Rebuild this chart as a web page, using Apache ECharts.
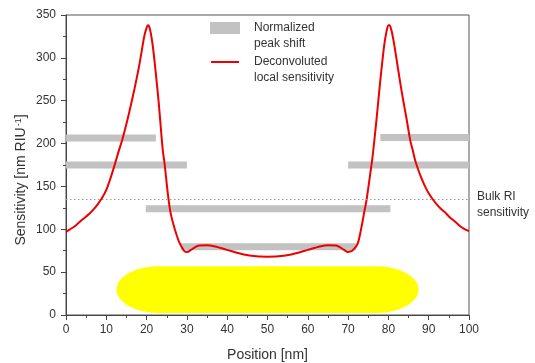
<!DOCTYPE html>
<html>
<head>
<meta charset="utf-8">
<script src="https://cdn.jsdelivr.net/npm/echarts@6/dist/echarts.min.js"></script>
<style>
  html, body { margin: 0; padding: 0; background: #fff; }
  #chart { width: 535px; height: 363px; }
</style>
</head>
<body>
<div id="chart"></div>
<script>
    // 位置 [nm] 与 局部灵敏度
    var posX = [0,1,2,3,4,5,6,7,8,9,10,11,12,13,14,15,16,17,18,18.5,19,19.5,20,20.3,20.6,21,21.5,22,22.5,23,23.5,24,24.5,25,25.5,26,27,28,29,29.5,30,31,32,33,35,37,40,43,46,50,54,57,60,63,65,67,68,69,70,70.5,71,72,72.5,73,73.5,74,74.5,75,75.5,76,76.5,77,77.5,78,78.5,79,79.5,80,80.3,80.7,81,81.5,82,82.5,83,83.5,84,84.5,85,85.5,86,86.5,87,88,89,90,91,92,93,94,95,96,97,98,99,100];
    var sensitivity = [97,100,103,107,111,115,119,124,130,137,146,159,174,190,205,223,243,264,287,300,314,327,335,338,337,330,315,295,272,248,220,193,175,153,133,118,100,86,77,74,73.5,76,79,81,81.5,80,76,72,69,68,69,72,76,80,81.5,81,79,76,73.5,74,75,80,85,95,107,120,132,148,165,182,203,226,250,274,296,316,330,338,338,333,327,314,299,284,269,255,242,229,215,202,193,183,175,162,151,142,135,129,124,120,115,111,107,103,100,98];

    // 归一化峰位移 (水平条)
    var shiftStart = [0, 0, 19.8, 28.5, 78, 70];
    var shiftEnd = [22.3, 30, 80.5, 72, 100, 100];
    var shiftValue = [206.5, 175, 124, 79.5, 207, 175];

    var bulkRI = 135;

    // 纳米颗粒 (黄色)
    var padX = [12.5, 87.5];
    var padY = [2.3, 57];

    var xTicks = [0, 100, 10];
    var yTicks = [0, 350, 50];

    var shiftData = [];
    for (var i = 0; i < shiftValue.length; i++) {
        shiftData.push([shiftStart[i], shiftEnd[i], shiftValue[i]]);
    }
    var curveData = [];
    for (var j = 0; j < posX.length; j++) {
        curveData.push([posX[j], sensitivity[j]]);
    }

    var font = 'Liberation Sans, Arial, sans-serif';
    var myChart = echarts.init(document.getElementById('chart'));
    myChart.setOption({
        animation: false,
        grid: {
            left: 66,
            right: 66,
            top: 15,
            bottom: 48,
            outerBoundsMode: 'none',
            containLabel: false,
            show: true,
            borderColor: '#555',
            borderWidth: 1
        },
        legend: [
            {
                data: [{name: 'Normalized peak shift', icon: 'rect'}],
                left: 210,
                top: 4,
                padding: 0,
                itemWidth: 30,
                itemHeight: 12,
                selectedMode: false,
                formatter: function () { return '\nNormalized\npeak shift'; },
                textStyle: {fontFamily: font, fontSize: 12, color: '#333', lineHeight: 16, padding: [0, 0, 0, 9]}
            },
            {
                data: [{name: 'Deconvoluted local sensitivity', icon: 'rect'}],
                left: 211,
                top: 38,
                padding: 0,
                itemWidth: 28,
                itemHeight: 2,
                selectedMode: false,
                formatter: function () { return '\nDeconvoluted\nlocal sensitivity'; },
                textStyle: {fontFamily: font, fontSize: 12, color: '#333', lineHeight: 16, padding: [0, 0, 0, 10]}
            }
        ],
        xAxis: {
            type: 'value',
            min: xTicks[0],
            max: xTicks[1],
            interval: xTicks[2],
            name: 'Position [nm]',
            nameLocation: 'middle',
            nameGap: 33,
            nameMoveOverlap: false,
            nameTextStyle: {fontFamily: font, fontSize: 14, color: '#333'},
            axisLine: {show: true, lineStyle: {color: '#444', width: 1}},
            axisTick: {show: true, length: 5, lineStyle: {color: '#444'}},
            minorTick: {show: true, splitNumber: 2, length: 3, lineStyle: {color: '#444'}},
            splitLine: {show: false},
            axisLabel: {fontFamily: font, fontSize: 12, color: '#333', margin: 9}
        },
        yAxis: {
            type: 'value',
            min: yTicks[0],
            max: yTicks[1],
            interval: yTicks[2],
            name: 'Sensitivity [nm RIU{sup|-1}]',
            nameLocation: 'middle',
            nameGap: 37,
            nameMoveOverlap: false,
            nameTextStyle: {
                fontFamily: font, fontSize: 14, color: '#333',
                padding: [0, 30, 0, 0],
                rich: {sup: {fontFamily: font, fontSize: 9, color: '#333', verticalAlign: 'top', padding: [0, 0, 6, 1]}}
            },
            axisLine: {show: true, lineStyle: {color: '#444', width: 1}},
            axisTick: {show: true, length: 5, lineStyle: {color: '#444'}},
            minorTick: {show: true, splitNumber: 2, length: 3, lineStyle: {color: '#444'}},
            splitLine: {show: false},
            axisLabel: {fontFamily: font, fontSize: 12, color: '#333', margin: 10}
        },
        series: [
            {
                type: 'custom',
                name: 'particle',
                z: 1,
                silent: true,
                data: [[padX[0], padX[1], padY[0], padY[1]]],
                renderItem: function (params, api) {
                    var x0 = api.value(0), x1 = api.value(1), y0 = api.value(2), y1 = api.value(3);
                    var cw = 10.7; // 端部椭圆宽度
                    var yc = (y0 + y1) / 2, ry = (y1 - y0) / 2;
                    var pts = [];
                    for (var a = -90; a <= 90; a += 6) {
                        var t = a * Math.PI / 180;
                        pts.push(api.coord([x1 - cw + cw * Math.cos(t), yc + ry * Math.sin(t)]));
                    }
                    for (var b = 90; b <= 270; b += 6) {
                        var s = b * Math.PI / 180;
                        pts.push(api.coord([x0 + cw + cw * Math.cos(s), yc + ry * Math.sin(s)]));
                    }
                    return {type: 'polygon', shape: {points: pts}, style: {fill: '#ffff00'}};
                }
            },
            {
                type: 'custom',
                name: 'Normalized peak shift',
                z: 2,
                itemStyle: {color: '#c2c2c2'},
                data: shiftData,
                encode: {x: [0, 1], y: 2},
                renderItem: function (params, api) {
                    var a = api.coord([api.value(0), api.value(2)]);
                    var b = api.coord([api.value(1), api.value(2)]);
                    return {
                        type: 'rect',
                        shape: {x: a[0], y: a[1] - 3.5, width: b[0] - a[0], height: 7},
                        style: {fill: '#c2c2c2'}
                    };
                },
                markLine: {
                    silent: true,
                    symbol: ['none', 'none'],
                    lineStyle: {type: [1.5, 2.5], color: '#999', width: 1},
                    label: {
                        show: true,
                        position: 'end',
                        distance: 8,
                        offset: [0, -3],
                        formatter: '\nBulk RI\nsensitivity',
                        fontFamily: font,
                        fontSize: 12,
                        color: '#333',
                        lineHeight: 16,
                        align: 'left'
                    },
                    data: [{yAxis: bulkRI}]
                }
            },
            {
                type: 'line',
                name: 'Deconvoluted local sensitivity',
                z: 3,
                data: curveData,
                smooth: 0.3,
                symbol: 'none',
                lineStyle: {color: '#ee0000', width: 2},
                itemStyle: {color: '#ee0000'}
            }
        ]
    });
    window.addEventListener('resize', myChart.resize);
</script>
</body>
</html>
